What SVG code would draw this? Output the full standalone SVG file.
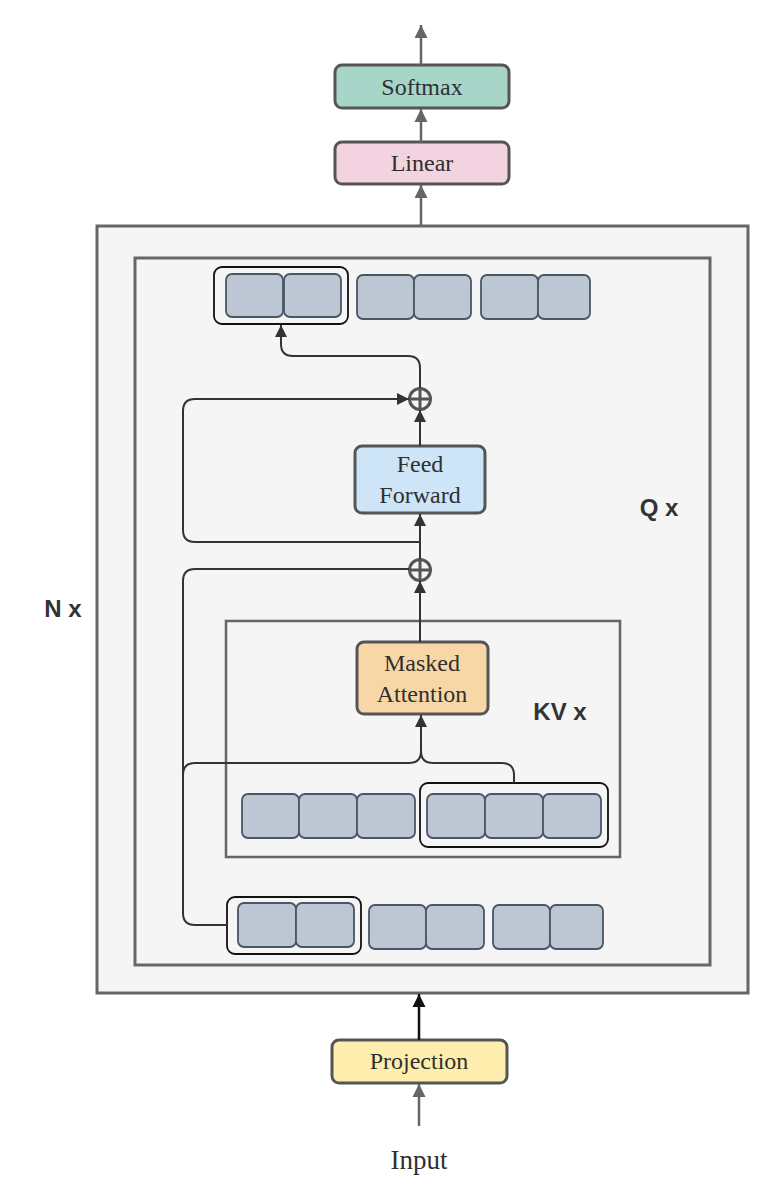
<svg xmlns="http://www.w3.org/2000/svg" width="783" height="1200" viewBox="0 0 783 1200">
<style>
.frame{fill:#f5f5f5;stroke:#666;stroke-width:3}
.node{stroke:#555;stroke-width:3}
.tok{fill:#bdc7d3;stroke:#4a5666;stroke-width:1.8}
.grp{fill:none;stroke:#111;stroke-width:1.8}
.lbl{font-family:"Liberation Serif","Times New Roman",serif;font-size:24px;fill:#2f2f2f;text-anchor:middle}
.big{font-family:"Liberation Sans",Arial,sans-serif;font-size:24px;font-weight:bold;fill:#333;text-anchor:middle}
.c{fill:none;stroke:#333;stroke-width:2}
.cg{fill:none;stroke:#666;stroke-width:2.5}
.ck{fill:none;stroke:#111;stroke-width:2.5}
.plus{fill:none;stroke:#555;stroke-width:3}
</style>
<defs>
<marker id="ad" markerUnits="userSpaceOnUse" markerWidth="14" markerHeight="14" refX="12" refY="7" orient="auto"><path d="M0,1 L12,7 L0,13 z" fill="#333"/></marker>
<marker id="ag" markerUnits="userSpaceOnUse" markerWidth="15" markerHeight="15" refX="13" refY="7.5" orient="auto"><path d="M0,1 L13,7.5 L0,14 z" fill="#666"/></marker>
<marker id="ak" markerUnits="userSpaceOnUse" markerWidth="15" markerHeight="15" refX="13" refY="7.5" orient="auto"><path d="M0,1 L13,7.5 L0,14 z" fill="#111"/></marker>
</defs>
<rect width="783" height="1200" fill="#fff"/>

<g id="n-block">
<rect class="frame" x="97" y="226" width="651" height="767"/>
<text class="big" x="63" y="617">N x</text>
</g>
<g id="q-block">
<rect class="frame" x="135" y="258" width="575" height="707"/>
<text class="big" x="659" y="516">Q x</text>
</g>
<g id="kv-block">
<rect class="frame" x="226" y="621" width="394" height="236" style="stroke-width:2.5"/>
<text class="big" x="560" y="720">KV x</text>
</g>

<g id="softmax">
<rect class="node" x="335" y="65" width="174" height="43" rx="7" fill="#a7d6c9"/>
<text class="lbl" x="422" y="95">Softmax</text>
</g>
<g id="linear">
<rect class="node" x="335" y="142" width="174" height="42" rx="7" fill="#f3d3df"/>
<text class="lbl" x="422" y="171">Linear</text>
</g>
<g id="feed-forward">
<rect class="node" x="355" y="446" width="130" height="67" rx="7" fill="#cde5f6"/>
<text class="lbl" x="420" y="472">Feed</text>
<text class="lbl" x="420" y="503">Forward</text>
</g>
<g id="masked-attention">
<rect class="node" x="357" y="642" width="131" height="72" rx="7" fill="#f8d7a6"/>
<text class="lbl" x="422" y="671">Masked</text>
<text class="lbl" x="422" y="702">Attention</text>
</g>
<g id="projection">
<rect class="node" x="332" y="1040" width="175" height="43" rx="7" fill="#fdeeae"/>
<text class="lbl" x="419" y="1069">Projection</text>
</g>
<g id="input">
<text class="lbl" x="419" y="1169" style="font-size:27px">Input</text>
</g>

<g id="add-1">
<circle class="plus" cx="420" cy="399" r="10.5"/>
<path class="plus" d="M409.5,399 H430.5 M420,388.5 V409.5"/>
</g>
<g id="add-2">
<circle class="plus" cx="420" cy="570" r="10.5"/>
<path class="plus" d="M409.5,570 H430.5 M420,559.5 V580.5"/>
</g>

<g id="tokens-top">
<rect class="grp" x="214" y="267" width="134" height="57" rx="8"/>
<rect class="tok" x="226" y="274" width="57" height="43" rx="6"/>
<rect class="tok" x="284" y="274" width="57" height="43" rx="6"/>
<rect class="tok" x="357" y="275" width="57" height="44" rx="6"/>
<rect class="tok" x="414" y="275" width="57" height="44" rx="6"/>
<rect class="tok" x="481" y="275" width="57" height="44" rx="6"/>
<rect class="tok" x="538" y="275" width="52" height="44" rx="6"/>
</g>
<g id="tokens-kv">
<rect class="tok" x="242" y="794" width="57" height="44" rx="6"/>
<rect class="tok" x="299" y="794" width="58" height="44" rx="6"/>
<rect class="tok" x="357" y="794" width="58" height="44" rx="6"/>
<rect class="grp" x="420" y="783" width="188" height="64" rx="8"/>
<rect class="tok" x="427" y="794" width="58" height="44" rx="6"/>
<rect class="tok" x="485" y="794" width="58" height="44" rx="6"/>
<rect class="tok" x="543" y="794" width="58" height="44" rx="6"/>
</g>
<g id="tokens-bottom">
<rect class="grp" x="227" y="897" width="134" height="57" rx="8"/>
<rect class="tok" x="238" y="903" width="58" height="44" rx="6"/>
<rect class="tok" x="296" y="903" width="58" height="44" rx="6"/>
<rect class="tok" x="369" y="905" width="57" height="44" rx="6"/>
<rect class="tok" x="426" y="905" width="58" height="44" rx="6"/>
<rect class="tok" x="493" y="905" width="57" height="44" rx="6"/>
<rect class="tok" x="550" y="905" width="53" height="44" rx="6"/>
</g>

<g id="connectors">
<path class="cg" d="M421,65 V25" marker-end="url(#ag)"/>
<path class="cg" d="M421,142 V109" marker-end="url(#ag)"/>
<path class="cg" d="M421,226 V185" marker-end="url(#ag)"/>
<path class="c" d="M420,446 V410" marker-end="url(#ad)"/>
<path class="c" d="M420,388 V368 Q420,356 408,356 H293 Q281,356 281,344 V325" marker-end="url(#ad)"/>
<path class="c" d="M420,542 H195 Q183,542 183,530 V411 Q183,399 195,399 H409" marker-end="url(#ad)"/>
<path class="c" d="M420,559 V514" marker-end="url(#ad)"/>
<path class="c" d="M420,642 V581" marker-end="url(#ad)"/>
<path class="c" d="M227,925 H195 Q183,925 183,913 V581 Q183,569 195,569 H409"/>
<path class="c" d="M183,787 V775 Q183,763 195,763 H409 Q421,763 421,751 V715" marker-end="url(#ad)"/>
<path class="c" d="M514,783 V775 Q514,763 502,763 H433 Q421,763 421,751"/>
<path class="ck" d="M419,1040 V994" marker-end="url(#ak)"/>
<path class="cg" d="M419,1126 V1084" marker-end="url(#ag)"/>
</g>
</svg>
